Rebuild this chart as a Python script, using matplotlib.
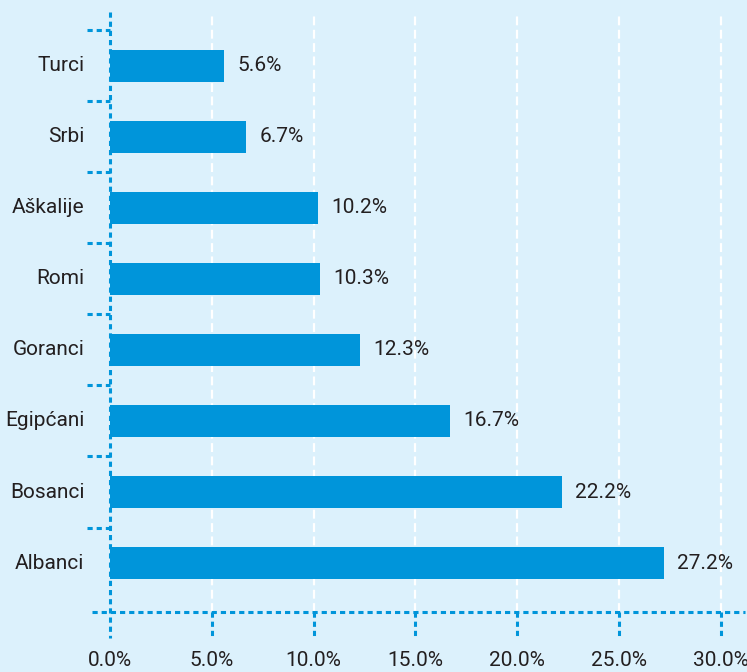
import matplotlib.pyplot as plt
from matplotlib.transforms import blended_transform_factory

# -------------------------------------------------
# Data
# -------------------------------------------------

groups = ["Albanci", "Bosanci", "Egipćani", "Goranci",
          "Romi", "Aškalije", "Srbi", "Turci"]

shares = [27.2, 22.2, 16.7, 12.3, 10.3, 10.2, 6.7, 5.6]

x_ticks = [0, 5, 10, 15, 20, 25, 30]

# -------------------------------------------------
# Style
# -------------------------------------------------

bg_color = "#dcf1fc"
bar_color = "#0095da"
text_color = "#231f20"

plt.rcParams["font.family"] = ["Roboto", "DejaVu Sans"]

fig = plt.figure(figsize=(7.47, 6.72), dpi=100, facecolor=bg_color)

W, H = 747, 672
ax = fig.add_axes([110 / W, (H - 612) / H, (745 - 110) / W, 600 / H])
ax.set_facecolor(bg_color)

y_pos = list(range(len(groups)))

ax.barh(y_pos, shares, height=0.46, color=bar_color, zorder=3)

ax.set_xlim(0, 31.2)
ax.set_ylim(-0.69, 7.76)

for s in ax.spines.values():
    s.set_visible(False)

ax.set_xticks([])
ax.set_yticks([])

# white dashed grid
for t in x_ticks[1:]:
    ax.axvline(t, color="white", lw=1.6, ls=(0, (4, 2)), zorder=1)

dot_style = dict(color=bar_color, lw=2.2, ls=(0, (1.7, 1.3)),
                 clip_on=False, zorder=4)

# left axis line, running past the bottom
ax.plot([0, 0], [7.76, -1.05], **dot_style)

# bottom axis line
ax.plot([-0.9, 31.2], [-0.69, -0.69], **dot_style)

# x tick marks below the axis
for t in x_ticks[1:]:
    ax.plot([t, t], [-0.69, -1.05], **dot_style)

# y tick marks at category boundaries
for i in range(len(groups)):
    ax.plot([-1.15, 0], [i + 0.5, i + 0.5], **dot_style)

# category labels
for y, name in zip(y_pos, groups):
    ax.text(-1.25, y, name, ha="right", va="center",
            fontsize=15, color=text_color)

# value labels
for y, v in zip(y_pos, shares):
    ax.text(v + 0.65, y, f"{v:.1f}%", ha="left", va="center",
            fontsize=15, color=text_color)

# x tick labels
trans = blended_transform_factory(ax.transData, fig.transFigure)
for t in x_ticks:
    ax.text(t, (H - 661) / H, f"{t:.1f}%", transform=trans,
            ha="center", va="center", fontsize=15, color=text_color)

fig.savefig("out.png", dpi=100, facecolor=bg_color)
